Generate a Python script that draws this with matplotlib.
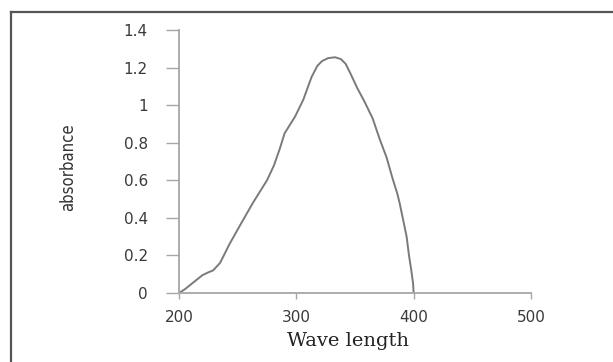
import matplotlib.pyplot as plt
from matplotlib.lines import Line2D

# values
wave_length = [200, 205, 209, 215, 220, 225, 229, 235, 243, 252, 263, 275, 281,
               286, 290, 295, 299, 306, 313, 318, 322, 327, 333, 338, 342, 346,
               352, 358, 365, 371, 377, 382, 386, 388, 391, 394, 396, 398, 399.5, 400]
absorbance = [0, 0.02, 0.04, 0.07, 0.095, 0.11, 0.12, 0.16, 0.26, 0.36, 0.48, 0.60, 0.68,
              0.77, 0.85, 0.90, 0.94, 1.03, 1.15, 1.21, 1.235, 1.25, 1.255, 1.245, 1.22, 1.17,
              1.09, 1.02, 0.93, 0.82, 0.72, 0.61, 0.53, 0.48, 0.39, 0.30, 0.20, 0.12, 0.05, 0]

x_ticks = [200, 300, 400, 500]
y_ticks = [0, 0.2, 0.4, 0.6, 0.8, 1.0, 1.2, 1.4]
y_tick_labels = ["0", "0.2", "0.4", "0.6", "0.8", "1", "1.2", "1.4"]

W, H = 613, 362
fig = plt.figure(figsize=(W / 100, H / 100), dpi=100)
ax = fig.add_axes([179 / W, 1 - 293 / H, (531 - 179) / W, (293 - 30) / H])

ax.plot(wave_length, absorbance, color="#7a7a7a", lw=1.4)

ax.set_xlim(200, 500)
ax.set_ylim(0, 1.4)
ax.set_xticks(x_ticks)
ax.set_yticks(y_ticks)
ax.set_yticklabels(y_tick_labels)

for side in ["top", "right"]:
    ax.spines[side].set_visible(False)
for side in ["left", "bottom"]:
    ax.spines[side].set_color("#a6a6a6")
    ax.spines[side].set_linewidth(1.3)

ax.tick_params(axis="y", direction="out", length=9.4, width=1.0, color="#a6a6a6",
               pad=13, labelsize=11, labelcolor="#3a3a3a")
ax.tick_params(axis="x", direction="out", length=4.5, width=1.0, color="#a6a6a6",
               pad=8, labelsize=11, labelcolor="#3a3a3a")

ax.set_xlabel("Wave length", family="DejaVu Serif", fontsize=14, color="#222222")
ax.xaxis.set_label_coords(0.48, -0.15)

fig.text(68 / W, 1 - 167 / H, "absorbance", rotation=90, ha="center", va="center",
         family=["Liberation Sans Narrow", "DejaVu Sans"], fontstretch="condensed",
         fontsize=12, color="#333333")

# frame lines on top and left edge of the picture
fig.add_artist(Line2D([10.5 / W, 1], [1 - 11.5 / H, 1 - 11.5 / H], transform=fig.transFigure,
                      color="#555555", lw=1.6))
fig.add_artist(Line2D([10.5 / W, 10.5 / W], [0, 1 - 11.5 / H], transform=fig.transFigure,
                      color="#555555", lw=1.6))

fig.savefig("out.png", dpi=100)
